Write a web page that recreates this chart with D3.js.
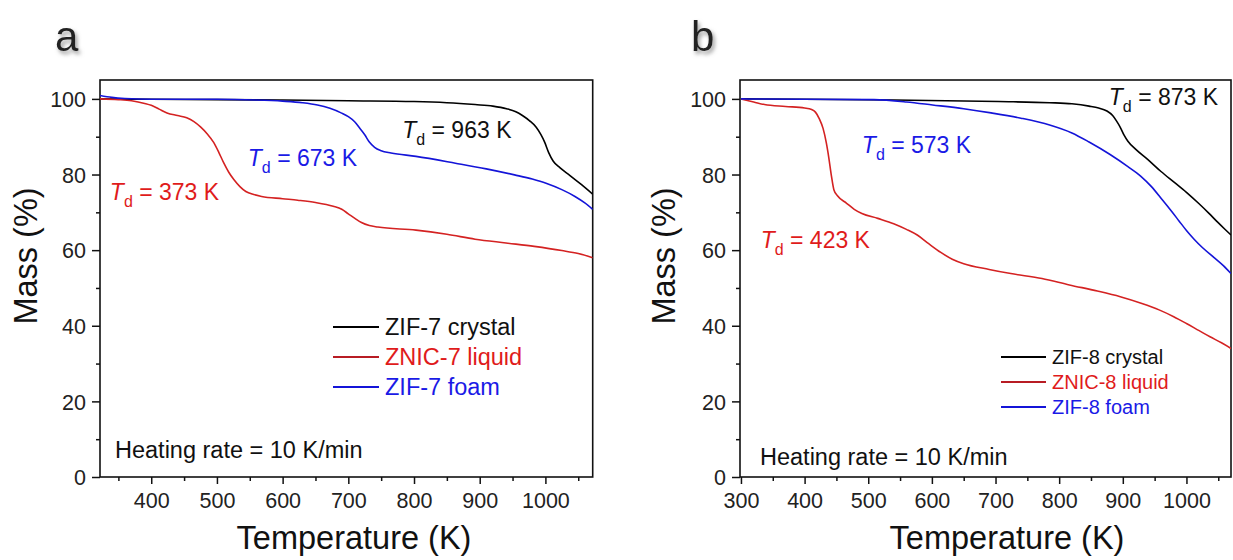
<!DOCTYPE html>
<html>
<head>
<meta charset="utf-8">
<script src="https://cdn.jsdelivr.net/npm/d3@7"></script>
<style>
  body { margin: 0; background: #fff; }
  svg { display: block; font-family: "Liberation Sans", Arial, sans-serif; }
</style>
</head>
<body>
<div id="chart"></div>
<script>
// ---- data (temperature K, mass %) ----
const yTicks = [0, 20, 40, 60, 80, 100];
const xTicksA = [400, 500, 600, 700, 800, 900, 1000];
const xTicksB = [300, 400, 500, 600, 700, 800, 900, 1000];

const zif7Crystal = [[322,100],[400,99.9],[500,99.8],[600,99.7],[700,99.5],[800,99.3],[850,99.0],[893,98.5],[920,98.1],[941,97.4],[955,96.6],[965,95.6],[976,94.2],[986,92.5],[993,90.6],[999,88.5],[1005,85.8],[1012,83.5],[1022,81.8],[1037,79.8],[1055,77.3],[1072,74.8]];
const znic7Liquid = [[322,100],[350,99.8],[370,99.5],[390,98.8],[400,98.3],[412,97.3],[424,96.3],[440,95.6],[454,95.0],[465,94.0],[475,92.6],[485,90.8],[495,88.5],[503,85.8],[510,83.2],[518,80.6],[526,78.6],[535,76.8],[544,75.5],[556,74.7],[568,74.2],[600,73.6],[623,73.2],[650,72.6],[677,71.6],[690,70.8],[700,69.6],[710,68.4],[720,67.3],[732,66.5],[745,66.1],[803,65.3],[850,64.2],[893,62.9],[940,61.9],[983,61.0],[1025,59.9],[1050,59.1],[1072,58.0]];
const zif7Foam = [[322,100.9],[340,100.4],[360,100.1],[400,99.9],[500,99.9],[560,99.7],[600,99.4],[630,99.0],[653,98.4],[672,97.5],[689,96.3],[700,95.3],[710,93.9],[718,92.1],[725,90.5],[732,88.6],[740,87.2],[750,86.3],[765,85.7],[803,84.8],[863,83.0],[910,81.5],[953,79.9],[980,78.8],[1001,77.7],[1025,76.0],[1045,74.2],[1060,72.5],[1072,70.8]];

const zif8Crystal = [[300,100],[400,99.9],[540,99.7],[705,99.3],[785,99.0],[820,98.7],[847,98.1],[862,97.6],[875,96.8],[884,95.6],[890,94.2],[896,92.5],[902,90.4],[908,88.8],[920,86.7],[939,84.0],[960,80.8],[982,77.8],[1000,75.3],[1019,72.4],[1035,69.8],[1049,67.4],[1060,65.6],[1070,64.0]];
const znic8Liquid = [[300,100],[320,99.2],[337,98.5],[370,98.0],[400,97.6],[411,97.2],[417,96.5],[423,94.8],[429,92.2],[434,88.5],[438,84.5],[442,79.8],[446,76.0],[452,74.3],[466,72.4],[478,70.8],[490,69.7],[515,68.4],[540,67.0],[560,65.5],[577,64.0],[595,61.7],[614,59.4],[632,57.6],[650,56.4],[690,54.9],[724,53.8],[773,52.5],[816,50.8],[860,49.2],[896,47.7],[930,45.9],[957,44.2],[980,42.4],[1000,40.6],[1020,38.7],[1037,37.1],[1055,35.5],[1070,34.0]];
const zif8Foam = [[300,100],[400,99.9],[509,99.8],[560,99.2],[601,98.4],[650,97.4],[693,96.3],[740,94.9],[785,93.1],[820,91.0],[847,88.6],[880,85.3],[908,82.1],[928,79.6],[945,76.8],[962,73.3],[975,70.6],[988,67.8],[1000,65.2],[1012,62.9],[1025,60.7],[1043,58.1],[1058,55.9],[1070,53.8]];

const legendA = ["ZIF-7 crystal", "ZNIC-7 liquid", "ZIF-7 foam"];
const legendB = ["ZIF-8 crystal", "ZNIC-8 liquid", "ZIF-8 foam"];
// Td annotations: [temperature, mass, value]
const tdA = [[782,89.7,"963 K"],[337,73.3,"373 K"],[547,82.3,"673 K"]];
const tdB = [[878,98.4,"873 K"],[331,60.5,"423 K"],[490,85.7,"573 K"]];

const lineColors = ["#000000", "#d42222", "#1414d8"];
const textColors = ["#111111", "#e01b1b", "#1a1ae6"];

const W = 1233, H = 560;
const svg = d3.select("#chart").append("svg")
    .attr("width", W)
    .attr("height", H);

const defs = svg.append("defs");
const shadow = defs.append("filter").attr("id","shadow")
    .attr("x","-50%").attr("y","-50%").attr("width","200%").attr("height","200%");
shadow.append("feDropShadow")
    .attr("dx",2).attr("dy",3).attr("stdDeviation",2.2)
    .attr("flood-color","#777").attr("flood-opacity",0.75);

function drawPanel(p){
    const x = d3.scaleLinear().domain(p.xDomain).range([p.left, p.right]);
    const y = d3.scaleLinear().domain([0,105]).range([477, 80]);
    const g = svg.append("g");

    defs.append("clipPath").attr("id","clip"+p.id)
        .append("rect")
        .attr("x",p.left).attr("y",80)
        .attr("width",p.right-p.left).attr("height",397);

    // minor ticks
    g.append("g").attr("transform","translate(0,477)")
        .call(d3.axisBottom(x).tickValues(d3.range(350,1100,100).filter(v=>v<p.xDomain[1])).tickSize(4).tickFormat(""))
        .call(a=>a.select(".domain").remove());
    g.append("g").attr("transform","translate("+p.left+",0)")
        .call(d3.axisLeft(y).tickValues([10,30,50,70,90]).tickSize(4).tickFormat(""))
        .call(a=>a.select(".domain").remove());

    // major ticks
    const xa = g.append("g").attr("transform","translate(0,477)")
        .call(d3.axisBottom(x).tickValues(p.xTicks).tickSize(7).tickPadding(9).tickFormat(d3.format("d")));
    xa.select(".domain").remove();
    xa.selectAll("text").attr("font-size",21.5).attr("fill","#222").attr("font-family",null);

    const ya = g.append("g").attr("transform","translate("+p.left+",0)")
        .call(d3.axisLeft(y).tickValues(yTicks).tickSize(8).tickPadding(6));
    ya.select(".domain").remove();
    ya.selectAll("text").attr("font-size",21.5).attr("fill","#222").attr("font-family",null).attr("dy","0.36em");
    g.selectAll(".tick line").attr("stroke","#111").attr("stroke-width",1.5);

    // frame
    g.append("rect")
        .attr("x",p.left).attr("y",80)
        .attr("width",p.right-p.left).attr("height",397)
        .attr("fill","none").attr("stroke","#111").attr("stroke-width",1.6);

    // curves
    const line = d3.line().x(d=>x(d[0])).y(d=>y(d[1])).curve(d3.curveMonotoneX);
    g.append("g").attr("clip-path","url(#clip"+p.id+")")
        .selectAll("path").data(p.series).enter().append("path")
        .attr("d",line)
        .attr("fill","none")
        .attr("stroke",(d,i)=>lineColors[i])
        .attr("stroke-width",1.6);

    // Td annotations
    p.td.forEach((t,i)=>{
        const tx = g.append("text")
            .attr("x",x(t[0])).attr("y",y(t[1]))
            .attr("font-size",23).attr("fill",textColors[i]);
        tx.append("tspan").attr("font-style","italic").text("T");
        tx.append("tspan").attr("font-size",16).attr("dy",7).text("d");
        tx.append("tspan").attr("dy",-7).text(" = "+t[2]);
    });

    // legend
    p.legend.forEach((name,i)=>{
        const ly = p.legY + i*p.legStep;
        g.append("line")
            .attr("x1",p.legX).attr("x2",p.legX+p.legLen)
            .attr("y1",ly).attr("y2",ly)
            .attr("stroke",i==1 ? "#b81c24" : lineColors[i]).attr("stroke-width",1.8);
        g.append("text")
            .attr("x",p.legX+p.legLen+6).attr("y",ly).attr("dy","0.35em")
            .attr("font-size",p.legFont).attr("fill",textColors[i])
            .text(name);
    });

    // heating rate note
    g.append("text")
        .attr("x",p.heatX).attr("y",p.heatY)
        .attr("font-size",23.5).attr("fill","#111")
        .text("Heating rate = 10 K/min");

    // axis titles
    g.append("text")
        .attr("x",p.xTitleX).attr("y",549)
        .attr("text-anchor","middle").attr("font-size",32.5).attr("fill","#111")
        .text("Temperature (K)");
    g.append("text")
        .attr("transform","translate("+p.yTitleX+",256) rotate(-90)")
        .attr("text-anchor","middle").attr("font-size",32.5).attr("fill","#111")
        .text("Mass (%)");

    // panel letter
    g.append("text")
        .attr("x",p.letterX).attr("y",51)
        .attr("font-size",42).attr("fill","#222")
        .attr("filter","url(#shadow)")
        .text(p.letter);
}

drawPanel({
    id:"a", letter:"a", letterX:55,
    xDomain:[322,1072], left:100, right:592.7, xTicks:xTicksA,
    series:[zif7Crystal, znic7Liquid, zif7Foam], td:tdA,
    legend:legendA, legX:333, legLen:46, legY:327, legStep:30, legFont:23.5,
    heatX:115, heatY:458, xTitleX:354, yTitleX:37
});
drawPanel({
    id:"b", letter:"b", letterX:691,
    xDomain:[298.5,1070], left:740, right:1231, xTicks:xTicksB,
    series:[zif8Crystal, znic8Liquid, zif8Foam], td:tdB,
    legend:legendB, legX:1001, legLen:45, legY:357, legStep:25, legFont:20,
    heatX:760, heatY:465, xTitleX:1007, yTitleX:675
});
</script>
</body>
</html>
